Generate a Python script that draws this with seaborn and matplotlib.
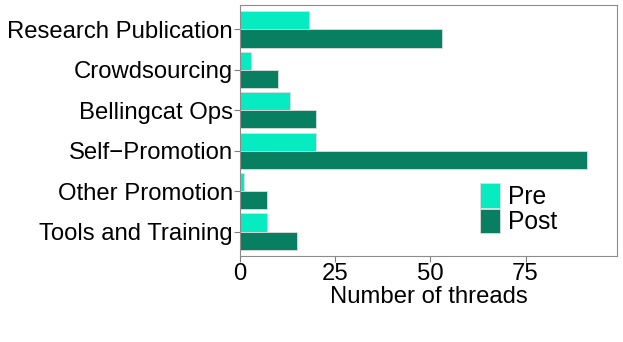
import pandas as pd
import seaborn as sns
import matplotlib
matplotlib.use("Agg")
import matplotlib.pyplot as plt
from matplotlib.patches import Patch

# data
categories = ["Research Publication", "Crowdsourcing", "Bellingcat Ops",
              "Self\u2212Promotion", "Other Promotion", "Tools and Training"]
pre_threads = [18, 3, 13, 20, 1, 7]
post_threads = [53, 10, 20, 91, 7, 15]
periods = ["Pre", "Post"]
colors = {"Pre": "#07EBC0", "Post": "#077F60"}

df = pd.DataFrame({
    "category": categories * 2,
    "threads": pre_threads + post_threads,
    "period": ["Pre"] * len(categories) + ["Post"] * len(categories),
})

sns.set_theme(style="white")
plt.rcParams["font.family"] = ["Liberation Sans", "DejaVu Sans"]

fig = plt.figure(figsize=(6.23, 3.42), dpi=100)
ax = fig.add_axes([240 / 623, 1 - 256 / 342, 377 / 623, 251 / 342])

sns.barplot(data=df, y="category", x="threads", hue="period",
            order=categories, hue_order=periods, palette=colors,
            orient="h", width=0.9, edgecolor="#dddddd", linewidth=0.6,
            saturation=1, legend=False, ax=ax)

fs = 17.2
ax.set_xlim(0, 99)
ax.set_ylim(5.6, -0.6)
ax.set_xticks([0, 25, 50, 75])
ax.set_xlabel("Number of threads", fontsize=fs, color="black", labelpad=1)
ax.set_ylabel("")
ax.tick_params(axis="both", which="both", length=4, width=0.8, color="#7f7f7f",
               labelsize=fs, labelcolor="black", pad=1)
ax.tick_params(axis="x", bottom=True)
ax.tick_params(axis="y", left=True)
for s in ax.spines.values():
    s.set_color("#8c8c8c")
    s.set_linewidth(0.8)

handles = [Patch(facecolor=colors[p], edgecolor="#dddddd", linewidth=0.6) for p in periods]
ax.legend(handles, periods, frameon=False, fontsize=fs + 0.5, loc="upper left",
          bbox_to_anchor=(0.637, 0.29), handlelength=0.8, handleheight=1.15,
          handletextpad=0.35, labelspacing=0.0, borderpad=0, borderaxespad=0,
          labelcolor="black")

fig.savefig("out.png", dpi=100)
